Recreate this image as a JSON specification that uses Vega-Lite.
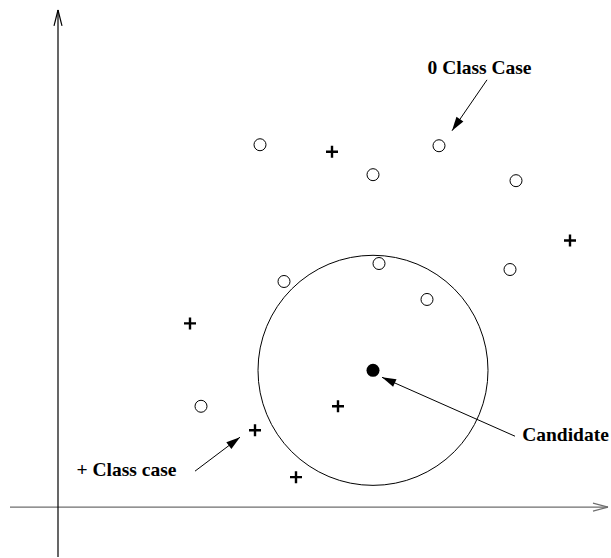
{
  "$schema": "https://vega.github.io/schema/vega-lite/v6.json",
  "width": 611,
  "height": 558,
  "autosize": {"type": "fit", "contains": "padding"},
  "padding": 0,
  "background": "white",
  "config": {"view": {"stroke": null}},
  "datasets": {
    "segments": [
      {"kind": "xaxis", "x": -48, "y": 0, "x2": 550, "y2": 0},
      {"kind": "xaxis", "x": 550, "y": 0, "x2": 535, "y2": 4},
      {"kind": "xaxis", "x": 550, "y": 0, "x2": 535, "y2": -4},
      {"kind": "yaxis", "x": 0, "y": -50, "x2": 0, "y2": 498},
      {"kind": "yaxis", "x": 0, "y": 498, "x2": -4, "y2": 482},
      {"kind": "yaxis", "x": 0, "y": 498, "x2": 4, "y2": 482}
    ],
    "arrows": [
      {"label": "0 Class Case", "x": 429, "y": 428, "x2": 394, "y2": 377},
      {"label": "Candidate", "x": 457, "y": 71, "x2": 324, "y2": 130},
      {"label": "+ Class case", "x": 137, "y": 36, "x2": 182, "y2": 70}
    ],
    "labels": [
      {"text": "0 Class Case", "x": 421.5, "y": 440},
      {"text": "Candidate", "x": 507.5, "y": 72},
      {"text": "+ Class case", "x": 68.5, "y": 37}
    ],
    "cases": [
      {"cls": "0", "x": 202, "y": 363},
      {"cls": "0", "x": 381, "y": 362},
      {"cls": "0", "x": 315, "y": 333},
      {"cls": "0", "x": 458, "y": 327},
      {"cls": "0", "x": 226, "y": 226},
      {"cls": "0", "x": 321, "y": 244},
      {"cls": "0", "x": 452, "y": 238},
      {"cls": "0", "x": 369, "y": 208},
      {"cls": "0", "x": 143, "y": 101},
      {"cls": "+", "x": 274, "y": 356},
      {"cls": "+", "x": 512, "y": 267},
      {"cls": "+", "x": 132, "y": 184},
      {"cls": "+", "x": 280, "y": 101},
      {"cls": "+", "x": 197, "y": 77},
      {"cls": "+", "x": 238, "y": 30}
    ],
    "candidate": [
      {"x": 315, "y": 137}
    ]
  },
  "layer": [
    {
      "data": {"name": "segments"},
      "mark": {"type": "rule", "strokeWidth": 1.2},
      "encoding": {
        "x": {"field": "x", "type": "quantitative", "scale": {"domain": [-58, 553], "nice": false, "zero": false}, "axis": null},
        "y": {"field": "y", "type": "quantitative", "scale": {"domain": [-50, 508], "nice": false, "zero": false}, "axis": null},
        "x2": {"field": "x2"},
        "y2": {"field": "y2"},
        "color": {"field": "kind", "type": "nominal", "scale": {"domain": ["xaxis", "yaxis"], "range": ["#6e6e6e", "#000000"]}, "legend": null}
      }
    },
    {
      "data": {"name": "arrows"},
      "mark": {"type": "rule", "strokeWidth": 1, "color": "black"},
      "encoding": {
        "x": {"field": "x", "type": "quantitative"},
        "y": {"field": "y", "type": "quantitative"},
        "x2": {"field": "x2"},
        "y2": {"field": "y2"}
      }
    },
    {
      "data": {"name": "arrows"},
      "transform": [
        {"calculate": "atan2(datum.x2 - datum.x, datum.y2 - datum.y) * 180 / PI", "as": "dir"}
      ],
      "mark": {"type": "point", "shape": "M0,0L0.3,1L-0.3,1Z", "filled": true, "color": "black", "opacity": 1, "size": 784},
      "encoding": {
        "x": {"field": "x2", "type": "quantitative"},
        "y": {"field": "y2", "type": "quantitative"},
        "angle": {"field": "dir", "type": "quantitative", "scale": {"domain": [0, 360], "range": [0, 360]}}
      }
    },
    {
      "data": {"name": "candidate"},
      "mark": {"type": "point", "shape": "circle", "filled": false, "stroke": "black", "strokeWidth": 1, "opacity": 1, "size": 52900},
      "encoding": {
        "x": {"field": "x", "type": "quantitative"},
        "y": {"field": "y", "type": "quantitative"}
      }
    },
    {
      "data": {"name": "candidate"},
      "mark": {"type": "point", "shape": "circle", "filled": true, "color": "black", "opacity": 1, "size": 169},
      "encoding": {
        "x": {"field": "x", "type": "quantitative"},
        "y": {"field": "y", "type": "quantitative"}
      }
    },
    {
      "data": {"name": "cases"},
      "mark": {"type": "point", "filled": false, "stroke": "black", "opacity": 1},
      "encoding": {
        "x": {"field": "x", "type": "quantitative"},
        "y": {"field": "y", "type": "quantitative"},
        "shape": {"field": "cls", "type": "nominal", "scale": {"domain": ["0", "+"], "range": ["circle", "M-1,0H1M0,-1V1"]}, "legend": null},
        "size": {"field": "cls", "type": "nominal", "scale": {"domain": ["0", "+"], "range": [144, 144]}, "legend": null},
        "strokeWidth": {"field": "cls", "type": "nominal", "scale": {"domain": ["0", "+"], "range": [1, 2.4]}, "legend": null}
      }
    },
    {
      "data": {"name": "labels"},
      "mark": {"type": "text", "font": "Liberation Serif", "fontWeight": "bold", "fontSize": 19.5, "align": "center", "baseline": "middle", "color": "black"},
      "encoding": {
        "x": {"field": "x", "type": "quantitative"},
        "y": {"field": "y", "type": "quantitative"},
        "text": {"field": "text"}
      }
    }
  ]
}
